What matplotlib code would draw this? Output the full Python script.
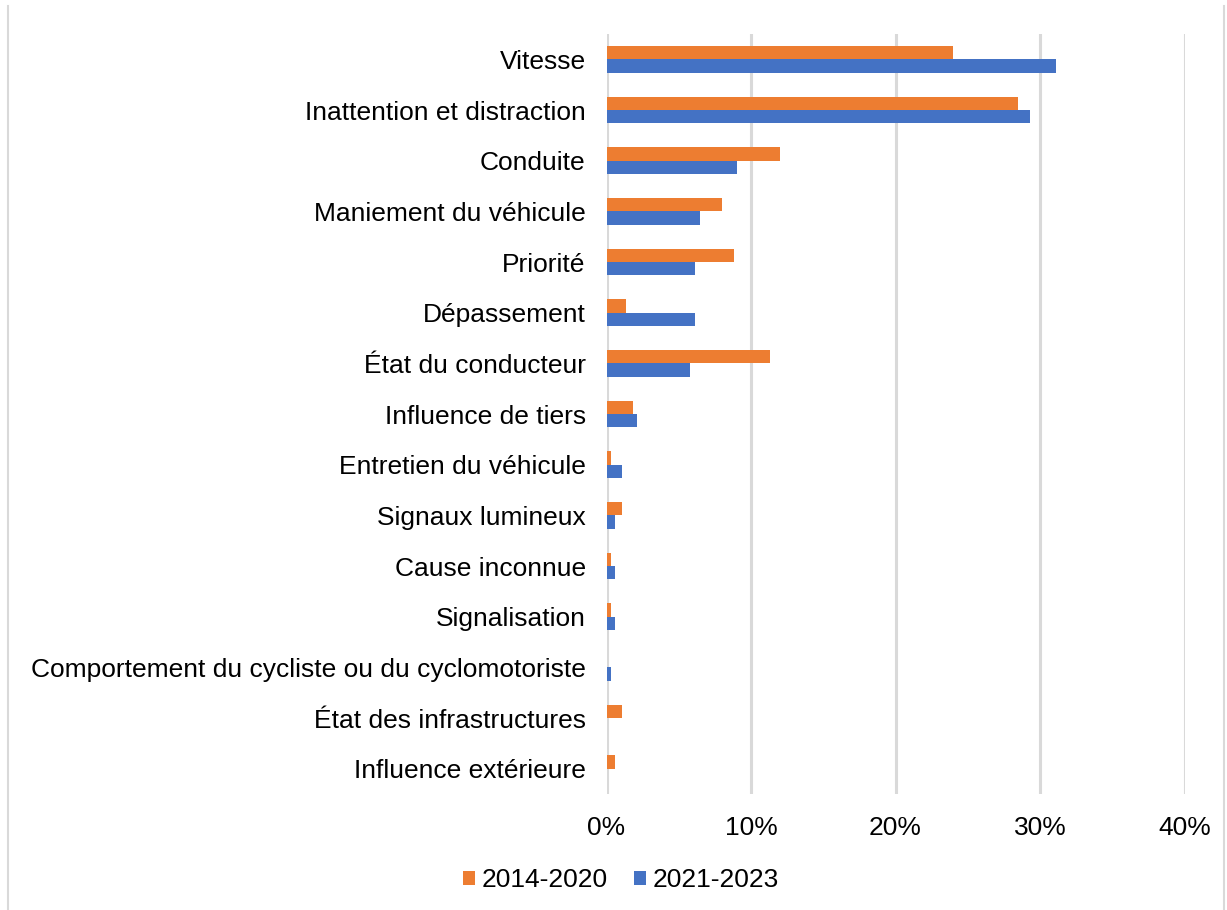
import matplotlib.pyplot as plt
from matplotlib.lines import Line2D
from matplotlib.ticker import FuncFormatter
import numpy as np

plt.rcParams['font.family'] = ['Liberation Sans', 'DejaVu Sans']

causes = ['Vitesse', 'Inattention et distraction', 'Conduite', 'Maniement du véhicule',
          'Priorité', 'Dépassement', 'État du conducteur', 'Influence de tiers',
          'Entretien du véhicule', 'Signaux lumineux', 'Cause inconnue', 'Signalisation',
          'Comportement du cycliste ou du cyclomotoriste', 'État des infrastructures',
          'Influence extérieure']
p2014_2020 = [24.0, 28.5, 12.0, 8.0, 8.8, 1.35, 11.3, 1.8, 0.3, 1.07, 0.3, 0.3, 0.0, 1.07, 0.6]
p2021_2023 = [31.1, 29.3, 9.05, 6.5, 6.1, 6.1, 5.8, 2.1, 1.07, 0.6, 0.6, 0.6, 0.3, 0.0, 0.0]
periodes = ['2014-2020', '2021-2023']

orange = '#ED7D31'
bleu = '#4472C4'

fig = plt.figure(figsize=(12.27, 9.10), dpi=100)
ax = fig.add_axes([606.5/1227, 1 - 794/910, (1184.5 - 606.5)/1227, (794 - 34)/910])

y = np.arange(len(causes))
h = 0.26
ax.barh(y - h/2, p2014_2020, height=h, color=orange, label=periodes[0], zorder=3)
ax.barh(y + h/2, p2021_2023, height=h, color=bleu, label=periodes[1], zorder=3)

ax.set_ylim(len(causes) - 0.5, -0.5)
ax.set_xlim(0, 40)
ax.set_yticks(y)
ax.set_yticklabels(causes, fontsize=19)
ax.set_xticks([0, 10, 20, 30, 40])
ax.xaxis.set_major_formatter(FuncFormatter(lambda v, p: f'{v:.0f}%'))
ax.tick_params(axis='x', labelsize=19, length=0, pad=16)
ax.tick_params(axis='y', length=0, pad=15)
ax.grid(axis='x', color='#D9D9D9', linewidth=2.2, zorder=0)
for s in ax.spines.values():
    s.set_visible(False)

fig.legend(loc='center', bbox_to_anchor=(621/1227, 1 - 880/910), ncol=2, frameon=False,
           fontsize=19, handlelength=0.45, handleheight=0.45, handletextpad=0.25,
           columnspacing=1.0)

# cadre du graphique
fig.add_artist(Line2D([8/1227, 8/1227], [0, 1 - 6/910], transform=fig.transFigure,
                      color='#D9D9D9', linewidth=1.5))
fig.add_artist(Line2D([1224/1227, 1224/1227], [0, 1 - 6/910], transform=fig.transFigure,
                      color='#D9D9D9', linewidth=1.5))

plt.savefig('out.png', dpi=100)
